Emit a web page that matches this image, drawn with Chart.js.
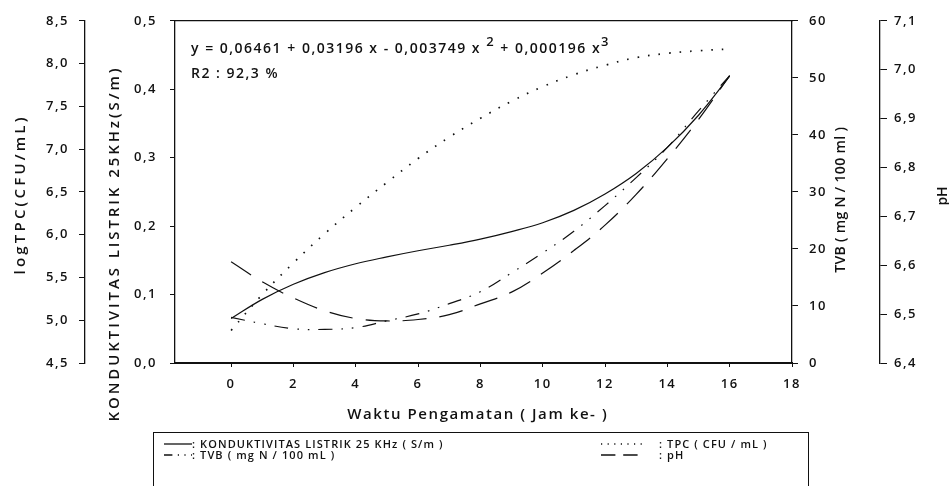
<!DOCTYPE html>
<html><head><meta charset="utf-8">
<script src="https://cdn.jsdelivr.net/npm/chart.js@4"></script>
<style>
html,body{margin:0;padding:0;background:#fff;}
#wrap{position:relative;width:949px;height:486px;overflow:hidden;font-family:"Open Sans",sans-serif;color:#111;}
#c{position:absolute;left:0;top:0;}
#eq{position:absolute;left:191px;top:35px;font-size:14px;font-weight:600;letter-spacing:1.5px;line-height:25px;white-space:nowrap;}
#eq sup{font-size:13px;vertical-align:7px;line-height:0;}
#legend{position:absolute;left:153px;top:432px;width:656px;height:70px;border:1.5px solid #111;box-sizing:border-box;}
.item{position:absolute;font-size:11px;font-weight:600;letter-spacing:1.1px;line-height:12px;white-space:nowrap;}
.item svg{position:absolute;top:3px;}
</style>
</head><body>
<div id="wrap">
<canvas id="c" width="949" height="486"></canvas>
<div id="eq">y = 0,06461 + 0,03196 x - 0,003749 x <sup>2</sup> + 0,000196 x<sup>3</sup><br>R2 : 92,3 %</div>
<div id="legend"></div>
</div>
<script>
// ---- data ----
const hours = [0,1,2,3,4,5,6,7,8,9,10,11,12,13,14,15,16];
const konduktivitas = [0.065,0.093,0.115,0.132,0.145,0.155,0.164,0.172,0.181,0.192,0.205,0.223,0.247,0.277,0.315,0.362,0.419];
const tpc = [4.88,5.30,5.67,6.01,6.32,6.61,6.89,7.14,7.36,7.56,7.73,7.87,7.98,8.07,8.12,8.15,8.17];
const tvb = [8.0,6.9,6.0,5.9,6.2,7.4,8.6,10.4,12.5,15.8,19.3,23.1,27.6,32.5,37.8,44.2,50.4];
const ph = [6.607,6.566,6.533,6.507,6.491,6.486,6.489,6.499,6.521,6.545,6.584,6.630,6.682,6.745,6.818,6.898,6.988];

const xTicks = [0,2,4,6,8,10,12,14,16,18];
const condTicks = [0,0.1,0.2,0.3,0.4,0.5];
const tpcTicks = [4.5,5.0,5.5,6.0,6.5,7.0,7.5,8.0,8.5];
const tvbTicks = [0,10,20,30,40,50,60];
const phTicks = [6.4,6.5,6.6,6.7,6.8,6.9,7.0,7.1];

const seriesNames = {
  kond: 'KONDUKTIVITAS LISTRIK  25 KHz ( S/m )',
  tpc: 'TPC ( CFU / mL )',
  tvb: 'TVB ( mg N / 100 mL )',
  ph: 'pH'
};
// ---- styling ----
const INK = '#111';
const FONT = '"Open Sans", sans-serif';
const tickFont = {family: FONT, size: 13, weight: '600'};
const dashes = {kond: [], tpc: [1.6, 9], tvb: [14, 9, 1.6, 9, 1.6, 9], ph: [24, 13]};

const comma = d => v => Number(v).toFixed(d).replace('.', ',');
const pts = arr => hours.map((h, i) => ({x: h, y: arr[i]}));

function yScale(pos, weight, min, max, ticks, width, fmt, tickLen, pad) {
  return {
    type: 'linear', position: pos, weight: weight, min: min, max: max,
    afterBuildTicks: s => { s.ticks = ticks.map(v => ({value: v})); },
    afterFit: s => { s.width = width; },
    grid: {display: true, drawOnChartArea: false, drawTicks: true, tickLength: tickLen, color: INK, lineWidth: 1},
    border: {display: true, color: INK, width: 1.3},
    ticks: {color: INK, font: tickFont, padding: pad, callback: fmt, autoSkip: false},
    title: {display: false}
  };
}

const titlePlugin = {
  id: 'axisTitles',
  beforeDraw(chart) { chart.ctx.letterSpacing = '1.5px'; },
  afterDraw(chart) {
    const ctx = chart.ctx, s = chart.scales;
    const items = [
      {text: 'logTPC(CFU/mL)', x: s.yTPC.left + 21, y: 196, len: 160, size: 15, rot: -Math.PI/2},
      {text: 'KONDUKTIVITAS LISTRIK 25KHz(S/m)', x: s.yCond.left + 30, y: 245, len: 356, size: 15, rot: -Math.PI/2},
      {text: 'TVB ( mg N / 100 ml )', x: s.yTVB.left + 49, y: 200, len: 146, size: 14, rot: -Math.PI/2},
      {text: 'pH', x: s.yPH.left + 63, y: 196, len: 0, size: 14, rot: -Math.PI/2},
      {text: 'Waktu Pengamatan ( Jam ke- )', x: 477, y: s.x.top + 52, len: 261, size: 15, rot: 0}
    ];
    items.forEach(it => {
      ctx.save();
      ctx.font = '600 ' + it.size + 'px ' + FONT;
      ctx.letterSpacing = '0px';
      let sp = 0;
      if (it.len) {
        const w = ctx.measureText(it.text).width;
        sp = Math.max(0, (it.len - w) / it.text.length);
      }
      ctx.letterSpacing = sp + 'px';
      ctx.fillStyle = INK;
      ctx.textAlign = 'center';
      ctx.textBaseline = 'middle';
      ctx.translate(it.x, it.y);
      ctx.rotate(it.rot);
      ctx.fillText(it.text, sp / 2, 0);
      ctx.restore();
    });
  }
};

const ds = (key, data, axis) => ({
  label: seriesNames[key], data: pts(data), yAxisID: axis,
  borderColor: INK, borderWidth: key === 'tpc' ? 1.7 : 1.2, borderDash: dashes[key],
  pointRadius: 0, tension: 0.4, fill: false
});

const chart = new Chart(document.getElementById('c'), {
  type: 'line',
  data: {
    datasets: [
      ds('kond', konduktivitas, 'yCond'),
      ds('tpc', tpc, 'yTPC'),
      ds('tvb', tvb, 'yTVB'),
      ds('ph', ph, 'yPH')
    ]
  },
  options: {
    responsive: false, animation: false, devicePixelRatio: 1,
    layout: {padding: {top: 20, left: 0, right: 0, bottom: 53}},
    plugins: {legend: {display: false}, tooltip: {enabled: false}},
    scales: {
      x: {
        type: 'linear', position: 'bottom', min: -1.8, max: 18,
        afterBuildTicks: s => { s.ticks = xTicks.map(v => ({value: v})); },
        afterFit: s => { s.height = 70; },
        grid: {display: true, drawOnChartArea: false, tickLength: 4, color: INK},
        border: {display: true, color: INK, width: 2},
        ticks: {color: INK, font: tickFont, padding: 9, maxRotation: 0, autoSkip: false, callback: v => String(v)}
      },
      xTop: {
        type: 'linear', position: 'top', min: -1.8, max: 18,
        afterFit: s => { s.height = 0; },
        grid: {display: true, drawOnChartArea: false, drawTicks: false},
        border: {display: true, color: INK, width: 1.3},
        ticks: {display: false}
      },
      yTPC: yScale('left', 2, 4.5, 8.5, tpcTicks, 85, comma(1), 6, 10),
      yCond: yScale('left', 1, 0, 0.5, condTicks, 90, comma(1), 5, 13),
      yTVB: yScale('right', 1, 0, 60, tvbTicks, 88, v => String(v), 6, 11),
      yPH: yScale('right', 2, 6.4, 7.1, phTicks, 69, comma(1), 7, 7)
    }
  },
  plugins: [titlePlugin]
});

// ---- legend built from the datasets ----
const legendPos = [
  {left: 10, top: 5, w: 28},
  {left: 447, top: 5, w: 44},
  {left: 10, top: 16, w: 28},
  {left: 447, top: 16, w: 40}
];
const textLeft = [38, 505, 38, 505];
const legend = document.getElementById('legend');
chart.data.datasets.forEach((d, i) => {
  const p = legendPos[i];
  const el = document.createElement('div');
  el.className = 'item';
  el.style.left = p.left + 'px';
  el.style.top = p.top + 'px';
  const dash = d.borderDash.length ? d.borderDash.map(v => Math.max(v * 0.6, 1.2)).join(' ') : 'none';
  el.innerHTML = '<svg width="' + p.w + '" height="6" style="left:0"><line x1="0" y1="3" x2="' + p.w +
    '" y2="3" stroke="#111" stroke-width="1.3" stroke-dasharray="' + dash + '"/></svg>' +
    '<span style="position:absolute;left:' + (textLeft[i] - p.left) + 'px;top:0">: ' + d.label + '</span>';
  legend.appendChild(el);
});
</script>
</body></html>
